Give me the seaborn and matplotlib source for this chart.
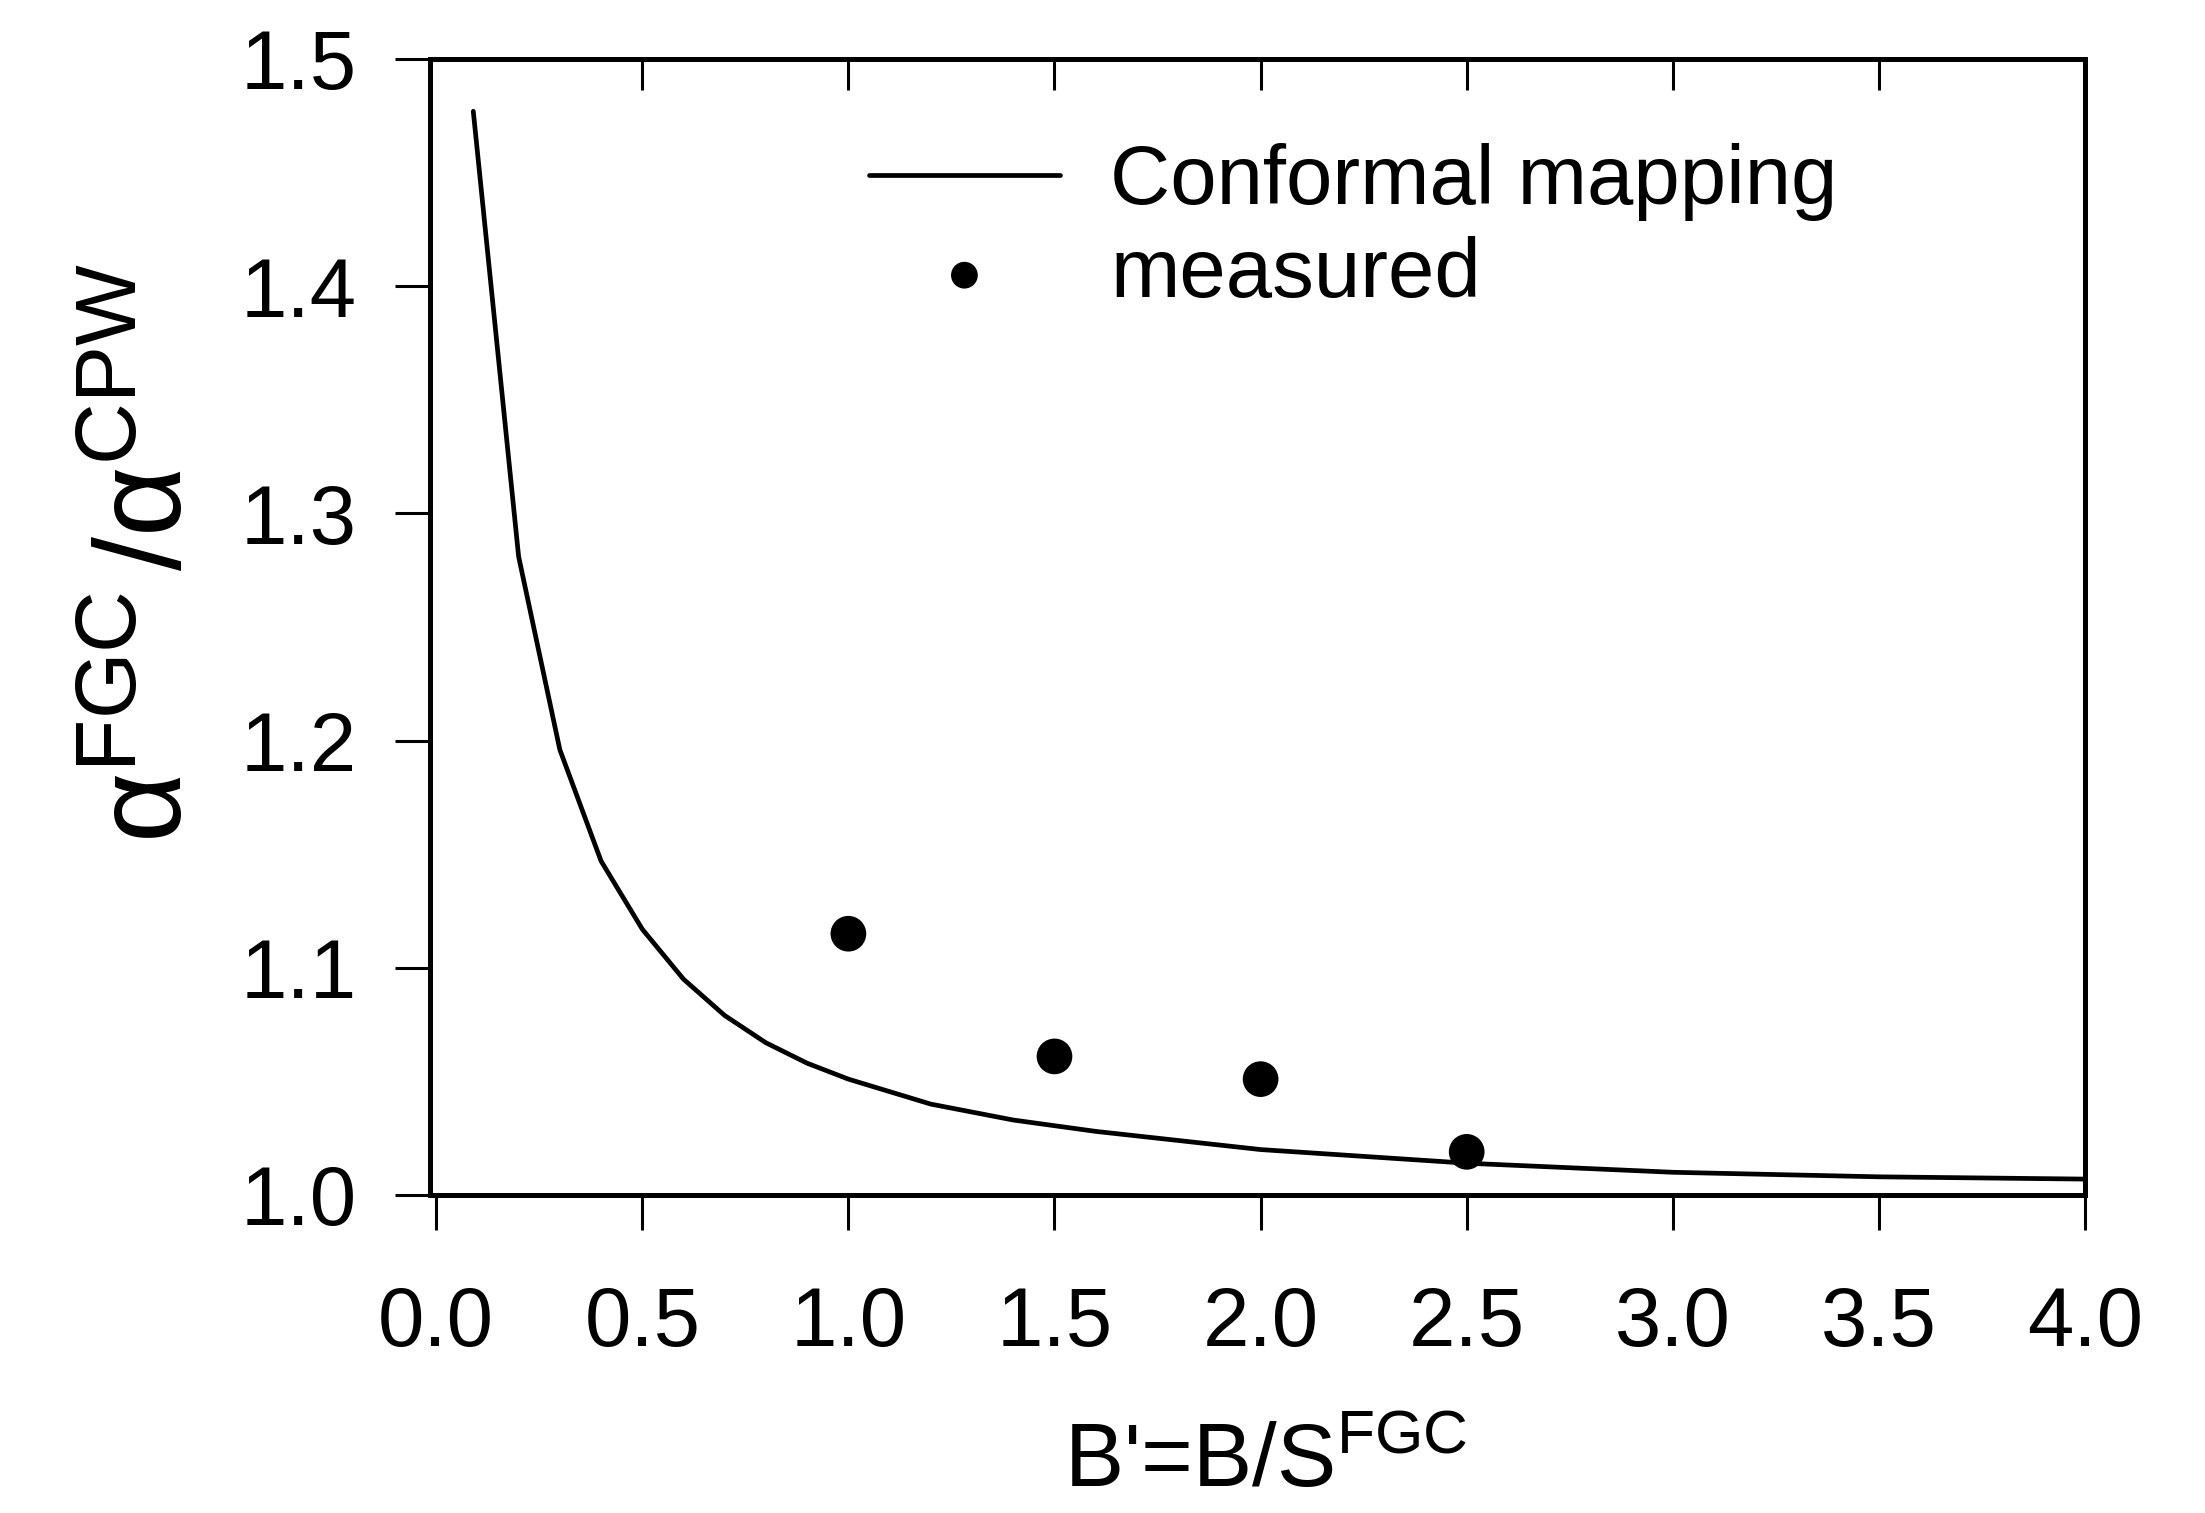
import numpy as np
import pandas as pd
import seaborn as sns
import matplotlib.pyplot as plt

# conformal mapping curve
b_ratio = [0.09, 0.2, 0.3, 0.4, 0.5, 0.6, 0.7, 0.8, 0.9, 1.0, 1.2, 1.4,
           1.6, 1.8, 2.0, 2.5, 3.0, 3.5, 4.0]
alpha_ratio = [1.477, 1.281, 1.196, 1.147, 1.117, 1.095, 1.079, 1.067, 1.058,
               1.051, 1.040, 1.033, 1.028, 1.024, 1.020, 1.014, 1.010, 1.008,
               1.007]

# measured points
b_meas = [1.0, 1.5, 2.0, 2.5]
alpha_meas = [1.115, 1.061, 1.051, 1.019]

x_ticks = [0.0, 0.5, 1.0, 1.5, 2.0, 2.5, 3.0, 3.5, 4.0]
y_ticks = [1.0, 1.1, 1.2, 1.3, 1.4, 1.5]

sns.set_theme(style="ticks")
plt.rcParams['font.family'] = ['Liberation Sans', 'DejaVu Sans']
plt.rcParams['mathtext.fontset'] = 'custom'
plt.rcParams['mathtext.rm'] = 'Liberation Sans'
plt.rcParams['mathtext.it'] = 'Liberation Sans:italic'
plt.rcParams['mathtext.bf'] = 'Liberation Sans:bold'
for k in ['text.color', 'axes.labelcolor', 'xtick.color', 'ytick.color']:
    plt.rcParams[k] = 'black'

curve = pd.DataFrame({'b': b_ratio, 'a': alpha_ratio})
meas = pd.DataFrame({'b': b_meas, 'a': alpha_meas})

W, H = 2205, 1513
fig = plt.figure(figsize=(W / 200, H / 200), dpi=200)
ax = fig.add_axes([430 / W, 1 - 1195 / H, 1655 / W, 1136 / H])

sns.lineplot(data=curve, x='b', y='a', ax=ax, color='black', linewidth=1.7,
             label='Conformal mapping', sort=False)
sns.scatterplot(data=meas, x='b', y='a', ax=ax, color='black', s=165,
                edgecolor='none', label='measured', zorder=3)

ax.set_xlim(-0.015, 4.0)
ax.set_ylim(1.0, 1.5)
ax.set_xticks(x_ticks)
ax.set_xticklabels([f"{v:.1f}" for v in x_ticks])
ax.set_yticks(y_ticks)
ax.set_yticklabels([f"{v:.1f}" for v in y_ticks])

for s in ax.spines.values():
    s.set_visible(True)
    s.set_linewidth(1.8)
    s.set_color('black')

ax.tick_params(axis='both', direction='out', length=12.5, width=1.1,
               colors='black', labelsize=30, right=False, top=False)
ax.tick_params(axis='x', pad=20)
ax.tick_params(axis='y', pad=14)

# inward ticks on the top frame
top = ax.secondary_xaxis('top')
top.set_xticks(x_ticks[1:-1])
top.tick_params(direction='in', length=11, width=1.1, labeltop=False)
top.spines['top'].set_linewidth(1.8)

ax.set_xlabel(r"B'=B/S$^{\mathrm{FGC}}$", fontsize=32)
ax.xaxis.set_label_coords(0.505, -0.2)
ax.set_ylabel(r"α$^{\mathrm{FGC}}$$\,$/α$^{\mathrm{CPW}}$", fontsize=44)
ax.yaxis.set_label_coords(-0.135, 0.565)

ax.legend(loc='upper left', bbox_to_anchor=(0.265, 0.926), frameon=False,
          fontsize=30, handlelength=2.3, handletextpad=0.6, labelspacing=0.18,
          borderpad=0, borderaxespad=0, markerscale=0.75)

fig.savefig('out.png', dpi=200, facecolor='white')
